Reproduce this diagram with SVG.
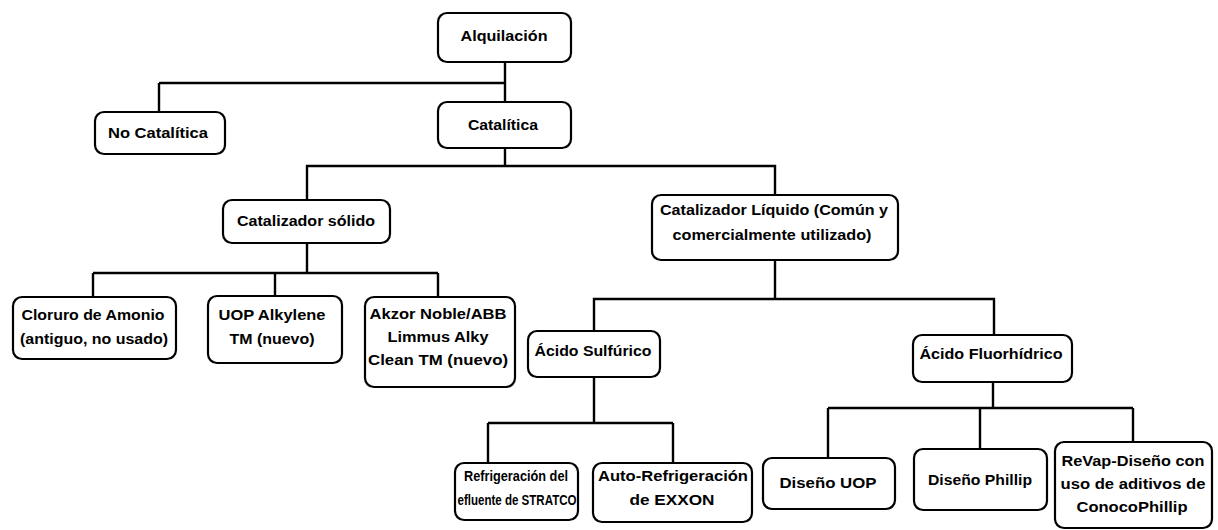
<svg xmlns="http://www.w3.org/2000/svg" width="1218" height="530" viewBox="0 0 1218 530">
<style>
.box{fill:#fff;stroke:#000;stroke-width:2.2}
.t{font-family:"Liberation Sans",Arial,sans-serif;font-weight:bold;font-size:14.5px;text-anchor:middle;fill:#000}
.c{fill:none;stroke:#000;stroke-width:2.4}
</style>
<rect width="1218" height="530" fill="#fff"/>
<g id="connectors">
<path class="c" d="M505 62V102M159 83H505M159 83V112"/>
<path class="c" d="M505 148V166H307V200M505 166H775V195"/>
<path class="c" d="M307 243V273M93 273H438M93 273V297M275 273V296M438 273V297"/>
<path class="c" d="M775 260V299H594V331M775 299H994V335"/>
<path class="c" d="M594 377V423M488 423H673M488 423V463M673 423V463"/>
<path class="c" d="M993 382V408M828 408H1133M828 408V458M980 408V449M1133 408V442"/>
</g>
<g id="n-alquilacion"><rect class="box" x="438" y="13" width="133" height="49" rx="9"/><text class="t" x="504" y="41" textLength="87" lengthAdjust="spacingAndGlyphs">Alquilación</text></g>
<g id="n-nocatalitica"><rect class="box" x="95" y="112" width="130" height="42" rx="9"/><text class="t" x="158" y="138" textLength="100" lengthAdjust="spacingAndGlyphs">No Catalítica</text></g>
<g id="n-catalitica"><rect class="box" x="438" y="102" width="133" height="46" rx="9"/><text class="t" x="503" y="130" textLength="70" lengthAdjust="spacingAndGlyphs">Catalítica</text></g>
<g id="n-solido"><rect class="box" x="223" y="200" width="167" height="43" rx="9"/><text class="t" x="306" y="226" textLength="138" lengthAdjust="spacingAndGlyphs">Catalizador sólido</text></g>
<g id="n-liquido"><rect class="box" x="652" y="195" width="246" height="65" rx="9"/><text class="t" x="774" y="215" textLength="228" lengthAdjust="spacingAndGlyphs">Catalizador Líquido (Común y</text><text class="t" x="772" y="240" textLength="199" lengthAdjust="spacingAndGlyphs">comercialmente utilizado)</text></g>
<g id="n-cloruro"><rect class="box" x="13" y="297" width="163" height="62" rx="9"/><text class="t" x="93" y="320" textLength="143" lengthAdjust="spacingAndGlyphs">Cloruro de Amonio</text><text class="t" x="94" y="344" textLength="148" lengthAdjust="spacingAndGlyphs">(antiguo, no usado)</text></g>
<g id="n-uop-alkylene"><rect class="box" x="208" y="296" width="134" height="67" rx="9"/><text class="t" x="272" y="320" textLength="107" lengthAdjust="spacingAndGlyphs">UOP Alkylene</text><text class="t" x="272" y="344" textLength="85" lengthAdjust="spacingAndGlyphs">TM (nuevo)</text></g>
<g id="n-akzor"><rect class="box" x="365" y="297" width="150" height="90" rx="9"/><text class="t" x="438" y="319" textLength="137" lengthAdjust="spacingAndGlyphs">Akzor Noble/ABB</text><text class="t" x="438" y="342" textLength="101" lengthAdjust="spacingAndGlyphs">Limmus Alky</text><text class="t" x="438" y="365" textLength="140" lengthAdjust="spacingAndGlyphs">Clean TM (nuevo)</text></g>
<g id="n-sulfurico"><rect class="box" x="528" y="331" width="132" height="46" rx="9"/><text class="t" x="593" y="356" textLength="117" lengthAdjust="spacingAndGlyphs">Ácido Sulfúrico</text></g>
<g id="n-fluorhidrico"><rect class="box" x="913" y="335" width="159" height="47" rx="9"/><text class="t" x="991" y="359" textLength="143" lengthAdjust="spacingAndGlyphs">Ácido Fluorhídrico</text></g>
<g id="n-stratco"><rect class="box" x="455" y="463" width="123" height="57" rx="9"/><text class="t" x="516" y="481" textLength="104" lengthAdjust="spacingAndGlyphs">Refrigeración del</text><text class="t" x="517" y="505" textLength="119" lengthAdjust="spacingAndGlyphs">efluente de STRATCO</text></g>
<g id="n-exxon"><rect class="box" x="593" y="463" width="159" height="59" rx="9"/><text class="t" x="673" y="481" textLength="150" lengthAdjust="spacingAndGlyphs">Auto-Refrigeración</text><text class="t" x="672" y="505" textLength="85" lengthAdjust="spacingAndGlyphs">de EXXON</text></g>
<g id="n-uop"><rect class="box" x="763" y="458" width="132" height="51" rx="9"/><text class="t" x="828" y="488" textLength="97" lengthAdjust="spacingAndGlyphs">Diseño UOP</text></g>
<g id="n-phillip"><rect class="box" x="914" y="449" width="133" height="61" rx="9"/><text class="t" x="980" y="485" textLength="104" lengthAdjust="spacingAndGlyphs">Diseño Phillip</text></g>
<g id="n-revap"><rect class="box" x="1055" y="442" width="157" height="86" rx="9"/><text class="t" x="1133" y="466" textLength="143" lengthAdjust="spacingAndGlyphs">ReVap-Diseño con</text><text class="t" x="1133" y="489" textLength="145" lengthAdjust="spacingAndGlyphs">uso de aditivos de</text><text class="t" x="1132" y="512" textLength="111" lengthAdjust="spacingAndGlyphs">ConocoPhillip</text></g>
</svg>
